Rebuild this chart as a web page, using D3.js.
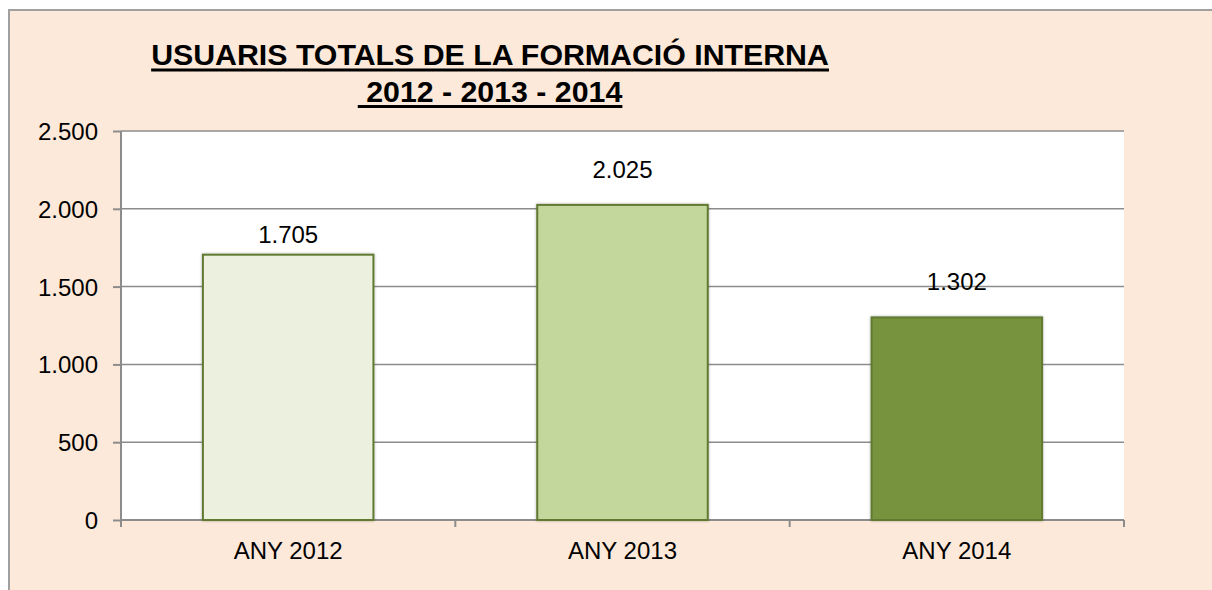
<!DOCTYPE html>
<html>
<head>
<meta charset="utf-8">
<script src="https://cdn.jsdelivr.net/npm/d3@7"></script>
<style>
  html, body { margin: 0; padding: 0; background: #ffffff; overflow: hidden; }
  svg { display: block; }
  text { font-family: "Liberation Sans", Arial, sans-serif; }
</style>
</head>
<body>
<svg id="chart" width="1212" height="590"></svg>
<script>
// ---- data ----
const categories = ["ANY 2012", "ANY 2013", "ANY 2014"];
const values = [1705, 2025, 1302];
const valueLabels = ["1.705", "2.025", "1.302"];
const yTicks = [0, 500, 1000, 1500, 2000, 2500];
const yTickLabels = ["0", "500", "1.000", "1.500", "2.000", "2.500"];
const titleLines = ["USUARIS TOTALS DE LA FORMACIÓ INTERNA", "\u00a02012 - 2013 - 2014"];

// ---- style / layout ----
const barFills = ["#EBF1DE", "#C3D69B", "#77933C"];
const labelGap = [12, 27, 27];
const W = 1212, H = 590;
const plot = { left: 121, top: 131, right: 1124, bottom: 520 };

const svg = d3.select("#chart");

const defs = svg.append("defs");
const f = defs.append("filter").attr("id", "shadow").attr("x", "-10%").attr("y", "-10%").attr("width", "120%").attr("height", "120%");
f.append("feGaussianBlur").attr("in", "SourceAlpha").attr("stdDeviation", 1.5).attr("result", "b");
f.append("feComponentTransfer").attr("in", "b").attr("result", "o2")
  .append("feFuncA").attr("type", "linear").attr("slope", 0.3);
const m = f.append("feMerge");
m.append("feMergeNode").attr("in", "o2");
m.append("feMergeNode").attr("in", "SourceGraphic");

// chart area background + border (only top and left edges are visible)
svg.append("rect").attr("x", 9).attr("y", 10).attr("width", W - 9).attr("height", H - 10)
  .attr("fill", "#FDE9D9");
svg.append("path").attr("d", `M9,${H}V10H${W}`).attr("fill", "none")
  .attr("stroke", "#A0A0A0").attr("stroke-width", 2);

// plot area
svg.append("rect").attr("x", plot.left).attr("y", plot.top)
  .attr("width", plot.right - plot.left).attr("height", plot.bottom - plot.top)
  .attr("fill", "#ffffff");

const x = d3.scaleBand().domain(categories).range([plot.left, plot.right]).paddingInner(0.49).paddingOuter(0.245);
const xb = d3.scaleBand().domain(categories).range([plot.left, plot.right]);
const y = d3.scaleLinear().domain([0, 2500]).range([plot.bottom, plot.top]);

// gridlines
svg.append("g").selectAll("line").data(yTicks.filter(d => d > 0)).join("line")
  .attr("x1", plot.left).attr("x2", plot.right)
  .attr("y1", d => y(d)).attr("y2", d => y(d))
  .attr("stroke", "#8C8C8C").attr("stroke-width", 1.5);

// y axis
const yAxis = d3.axisLeft(y).tickValues(yTicks).tickSize(8).tickPadding(15)
  .tickFormat((d, i) => yTickLabels[i]);
const gy = svg.append("g").attr("transform", `translate(${plot.left},0)`).call(yAxis);
gy.select(".domain").attr("stroke", "#8C8C8C").attr("stroke-width", 2)
  .attr("d", `M0,${plot.top}V${plot.bottom + 7}`);
gy.selectAll(".tick line").attr("stroke", "#8C8C8C").attr("stroke-width", 2);
gy.selectAll(".tick text").attr("font-size", 24).attr("fill", "#000")
  .attr("font-family", "Liberation Sans, Arial, sans-serif").attr("dy", "0.35em");

// x axis
const gx = svg.append("g").attr("transform", `translate(0,${plot.bottom})`);
gx.append("line").attr("x1", plot.left).attr("x2", plot.right).attr("y1", 0).attr("y2", 0)
  .attr("stroke", "#8C8C8C").attr("stroke-width", 2);
const bounds = categories.map(c => xb(c)).concat([plot.right]);
gx.selectAll("line.tk").data(bounds).join("line").attr("class", "tk")
  .attr("x1", d => d).attr("x2", d => d).attr("y1", 0).attr("y2", 7)
  .attr("stroke", "#8C8C8C").attr("stroke-width", 2);
gx.selectAll("text").data(categories).join("text")
  .attr("x", d => xb(d) + xb.bandwidth() / 2).attr("y", 39)
  .attr("text-anchor", "middle").attr("font-size", 24).attr("fill", "#000")
  .text(d => d);

// bars
svg.append("g").selectAll("rect").data(values).join("rect")
  .attr("x", (d, i) => x(categories[i]))
  .attr("y", d => y(d))
  .attr("width", x.bandwidth())
  .attr("height", d => y(0) - y(d))
  .attr("fill", (d, i) => barFills[i])
  .attr("stroke", "#617A33").attr("stroke-width", 2)
  .attr("filter", "url(#shadow)");

// value labels
svg.append("g").selectAll("text").data(values).join("text")
  .attr("x", (d, i) => xb(categories[i]) + xb.bandwidth() / 2)
  .attr("y", (d, i) => y(d) - labelGap[i])
  .attr("text-anchor", "middle").attr("font-size", 24).attr("fill", "#000")
  .text((d, i) => valueLabels[i]);

// title
const titleY = [65, 101.5];
const tg = svg.append("g");
titleLines.forEach((t, i) => {
  const tx = tg.append("text").attr("x", 490).attr("y", titleY[i])
    .attr("text-anchor", "middle").attr("font-size", 30.3).attr("font-weight", "bold")
    .attr("fill", "#000").text(t);
  const bb = tx.node().getBBox();
  tg.append("line").attr("x1", bb.x).attr("x2", bb.x + bb.width)
    .attr("y1", titleY[i] + 5).attr("y2", titleY[i] + 5)
    .attr("stroke", "#000").attr("stroke-width", 3);
});
</script>
</body>
</html>
